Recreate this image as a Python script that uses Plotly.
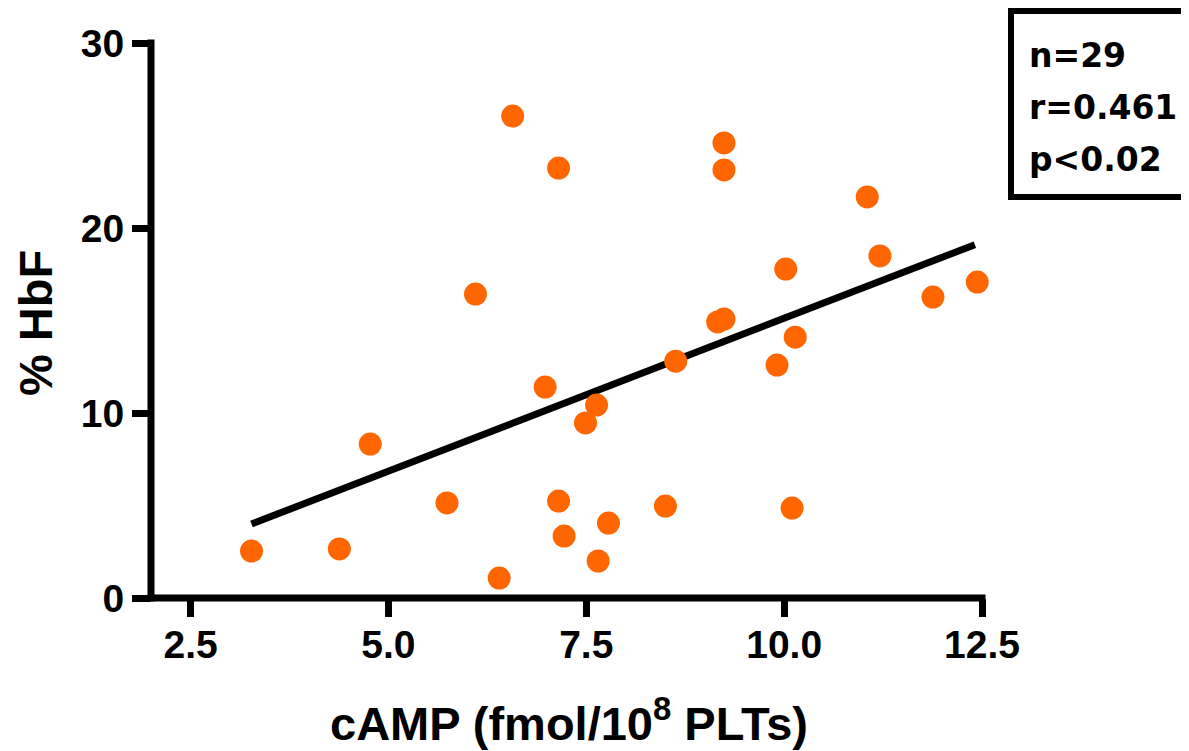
import plotly.graph_objects as go

# ---- data ----
camp = [3.27, 4.38, 4.77, 5.74, 6.10, 6.40, 6.57, 6.98, 7.15, 7.15,
        7.22, 7.49, 7.63, 7.65, 7.78, 8.50, 8.63, 9.16, 9.24, 9.24,
        9.24, 9.91, 10.02, 10.10, 10.14, 11.05, 11.21, 11.88, 12.44]
hbf = [2.54, 2.65, 8.32, 5.14, 16.43, 1.08, 26.05, 11.40, 23.24, 5.24,
       3.35, 9.46, 10.43, 2.00, 4.05, 4.97, 12.80, 14.92, 15.08, 24.60,
       23.14, 12.59, 17.78, 4.86, 14.10, 21.68, 18.49, 16.27, 17.08]
fit_x = [3.27, 12.41]
fit_y = [4.0, 19.1]
x_range = [2.0, 12.5]
y_range = [0, 30]
x_ticks = [2.5, 5.0, 7.5, 10.0, 12.5]
x_ticklabels = ["2.5", "5.0", "7.5", "10.0", "12.5"]
y_ticks = [0, 10, 20, 30]
stats_lines = ["n=29", "r=0.461", "p<0.02"]

# page is offset by the browser's default 8px body margin
OFF = 8
W, H = 1189 - OFF, 751 - OFF
L, R, T, B = 151 - OFF, 207, 43 - OFF, 153
PW, PH = W - L - R, H - T - B
LW = 7  # axis line width


def px(x):
    """page pixel x -> paper coordinate"""
    return (x - OFF - L) / PW


def py(y):
    """page pixel y -> paper coordinate"""
    return (H - B - (y - OFF)) / PH


FONT = "Liberation Sans, Arial, sans-serif"

fig = go.Figure()
fig.add_trace(go.Scatter(x=fit_x, y=fit_y, mode="lines",
                         line=dict(color="black", width=7),
                         hoverinfo="skip", showlegend=False))
fig.add_trace(go.Scatter(x=camp, y=hbf, mode="markers",
                         marker=dict(color="#FF6600", size=23, line=dict(width=0)),
                         cliponaxis=False, showlegend=False))

axis_common = dict(showgrid=False, zeroline=False, showline=False,
                   ticks="outside", ticklen=18, tickwidth=LW, tickcolor="black",
                   tickfont=dict(family=FONT, size=39, color="black", weight="bold"))

fig.update_xaxes(range=x_range, tickvals=x_ticks, ticktext=x_ticklabels,
                 ticklabelstandoff=-6, **axis_common)
fig.update_yaxes(range=y_range, tickvals=y_ticks, **axis_common)

# axis lines centred on the data edges (like the reference)
half_x = (LW / 2) / PW
half_y = (LW / 2) / PH
fig.add_shape(type="line", xref="paper", yref="paper",
              x0=-half_x, x1=1 + half_x, y0=0, y1=0,
              line=dict(color="black", width=LW))
fig.add_shape(type="line", xref="paper", yref="paper",
              x0=0, x1=0, y0=-half_y, y1=1 + half_y,
              line=dict(color="black", width=LW))

fig.add_annotation(text="cAMP (fmol/10<sup>8</sup> PLTs)", xref="paper", yref="paper",
                   x=px(569), y=py(720), xanchor="center", yanchor="middle",
                   showarrow=False,
                   font=dict(family=FONT, size=47, color="black", weight="bold"))
fig.add_annotation(text="% HbF", xref="paper", yref="paper",
                   x=px(35), y=py(323), xanchor="center", yanchor="middle",
                   textangle=-90, showarrow=False,
                   font=dict(family=FONT, size=47, color="black", weight="bold"))

# stats box
fig.add_shape(type="rect", xref="paper", yref="paper",
              x0=px(1011), x1=px(1185), y0=py(197), y1=py(11),
              line=dict(color="black", width=6), fillcolor="white")
for i, s in enumerate(stats_lines):
    fig.add_annotation(text=s, xref="paper", yref="paper",
                       x=px(1027), y=py(55 + 52.5 * i), xanchor="left", yanchor="middle",
                       showarrow=False,
                       font=dict(family="DejaVu Sans, sans-serif", size=33,
                                 color="black", weight="bold"))

fig.update_layout(width=W, height=H, margin=dict(l=L, r=R, t=T, b=B),
                  plot_bgcolor="white", paper_bgcolor="white")

fig.write_html("out.html")
